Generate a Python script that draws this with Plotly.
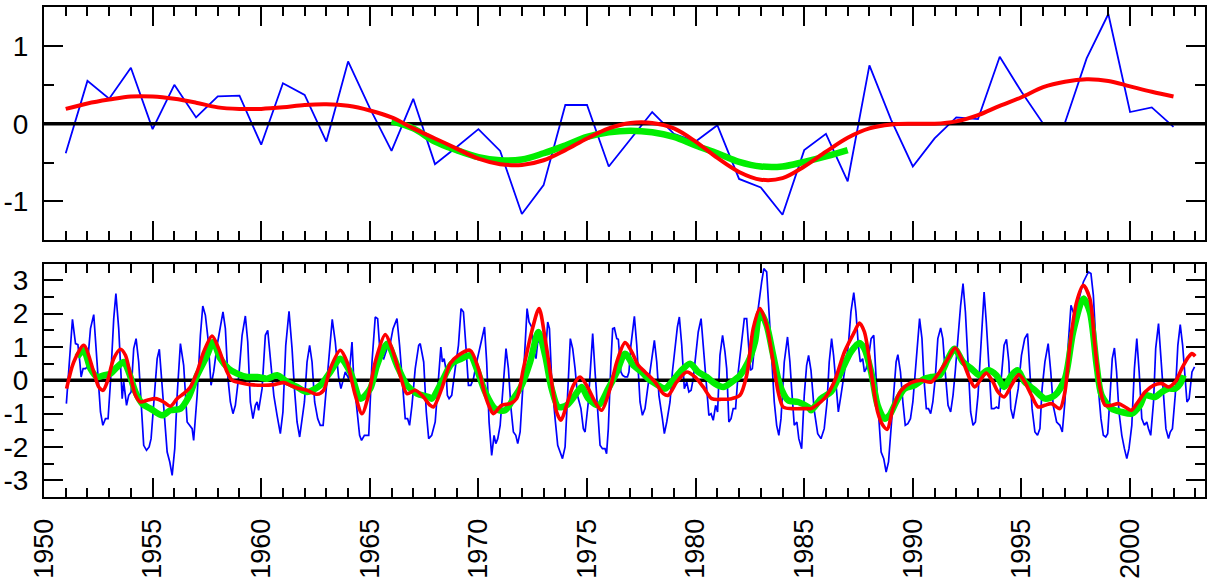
import plotly.graph_objects as go

# ---------------- data ----------------
# top panel: annual values
YEARS = list(range(1951, 2003))
ANNUAL = [-0.38, 0.55, 0.32, 0.72, -0.07, 0.50, 0.08, 0.35, 0.36, -0.27,
          0.52, 0.37, -0.23, 0.80, 0.20, -0.35, 0.32, -0.52, -0.30, -0.07,
          -0.35, -1.16, -0.79, 0.24, 0.24, -0.55, -0.20, 0.15, -0.13, -0.23,
          -0.02, -0.71, -0.82, -1.17, -0.34, -0.13, -0.74, 0.75, 0.05, -0.55,
          -0.19, 0.08, 0.06, 0.86, 0.41, 0.00, 0.01, 0.84, 1.41, 0.15,
          0.21, -0.04]
ANNUAL_SMOOTH = [0.19, 0.26, 0.31, 0.35, 0.35, 0.32, 0.27, 0.21, 0.19, 0.19,
                 0.21, 0.24, 0.25, 0.23, 0.17, 0.08, -0.06, -0.19, -0.32, -0.45,
                 -0.52, -0.53, -0.47, -0.34, -0.19, -0.06, 0.01, 0.01, -0.06, -0.23,
                 -0.44, -0.62, -0.72, -0.70, -0.55, -0.36, -0.18, -0.06, -0.01, 0.00,
                 0.00, 0.03, 0.11, 0.23, 0.34, 0.47, 0.54, 0.57, 0.55, 0.48,
                 0.41, 0.35]
YEARS_GREEN = list(range(1966, 1988))
ANNUAL_GREEN = [0.03, -0.06, -0.23, -0.34, -0.43, -0.47, -0.46, -0.38, -0.28, -0.17,
                -0.11, -0.09, -0.11, -0.17, -0.28, -0.38, -0.49, -0.55, -0.55, -0.49,
                -0.42, -0.34]

# bottom panel: monthly index (time in decimal years, value)
MONTHLY_T = [
    1951.03, 1951.31, 1951.45, 1951.56, 1951.65, 1951.71, 1951.80, 1951.91, 1951.99, 1952.14,
    1952.29, 1952.45, 1952.60, 1952.71, 1952.83, 1952.95, 1953.06, 1953.21, 1953.31, 1953.44,
    1953.52, 1953.60, 1953.67, 1953.80, 1953.90, 1954.01, 1954.13, 1954.24, 1954.36, 1954.49,
    1954.59, 1954.72, 1954.84, 1954.93, 1955.05, 1955.21, 1955.31, 1955.44, 1955.54, 1955.67,
    1955.79, 1955.90, 1956.02, 1956.13, 1956.28, 1956.43, 1956.59, 1956.69, 1956.82, 1956.89,
    1957.05, 1957.20, 1957.31, 1957.43, 1957.55, 1957.69, 1957.81, 1957.97, 1958.12, 1958.24,
    1958.35, 1958.47, 1958.58, 1958.70, 1958.81, 1958.97, 1959.12, 1959.27, 1959.38, 1959.50,
    1959.62, 1959.73, 1959.81, 1959.88, 1960.04, 1960.19, 1960.30, 1960.42, 1960.58, 1960.73,
    1960.88, 1961.00, 1961.13, 1961.28, 1961.42, 1961.53, 1961.65, 1961.77, 1961.88, 1961.99,
    1962.11, 1962.23, 1962.34, 1962.46, 1962.60, 1962.72, 1962.85, 1962.95, 1963.11, 1963.27,
    1963.41, 1963.56, 1963.67, 1963.76, 1963.87, 1964.03, 1964.18, 1964.26, 1964.41, 1964.53,
    1964.62, 1964.75, 1964.95, 1965.10, 1965.25, 1965.36, 1965.48, 1965.64, 1965.79, 1965.91,
    1966.07, 1966.25, 1966.37, 1966.53, 1966.63, 1966.74, 1966.83, 1966.94, 1967.09, 1967.25,
    1967.32, 1967.48, 1967.60, 1967.71,
    1967.85, 1968.01, 1968.13, 1968.27, 1968.34, 1968.42, 1968.50, 1968.57, 1968.65, 1968.77,
    1968.93, 1969.08, 1969.20, 1969.31, 1969.42, 1969.54, 1969.65, 1969.77, 1969.92, 1970.15,
    1970.28, 1970.38, 1970.49, 1970.61, 1970.72, 1970.80, 1970.89, 1971.00, 1971.10, 1971.20,
    1971.27, 1971.38, 1971.50, 1971.61, 1971.72, 1971.81, 1971.92, 1972.04, 1972.15, 1972.24,
    1972.33, 1972.45, 1972.53, 1972.65, 1972.73, 1972.84, 1972.94, 1973.07, 1973.19, 1973.27,
    1973.37, 1973.53, 1973.65, 1973.76, 1973.87, 1973.99, 1974.11, 1974.23, 1974.34, 1974.45,
    1974.56, 1974.63, 1974.72, 1974.83, 1974.91, 1975.06, 1975.17, 1975.26, 1975.37, 1975.49,
    1975.60, 1975.71, 1975.83, 1975.90, 1975.98, 1976.10, 1976.18, 1976.26, 1976.37, 1976.44,
    1976.56, 1976.64, 1976.75, 1976.86, 1976.93, 1977.02, 1977.18, 1977.29, 1977.44, 1977.55,
    1977.67, 1977.79, 1977.98, 1978.10, 1978.21, 1978.31, 1978.47, 1978.56, 1978.67, 1978.82,
    1978.93, 1979.05, 1979.16, 1979.25, 1979.36, 1979.48, 1979.59, 1979.69, 1979.79, 1979.89,
    1980.00, 1980.12, 1980.25, 1980.35, 1980.48, 1980.61, 1980.71, 1980.81, 1980.92, 1981.01,
    1981.12, 1981.24, 1981.35, 1981.43, 1981.53, 1981.63, 1981.73, 1981.84, 1981.96, 1982.12,
    1982.24, 1982.35, 1982.42, 1982.52, 1982.61, 1982.73, 1982.88, 1983.04, 1983.14, 1983.27,
    1983.37, 1983.50, 1983.62, 1983.73, 1983.83, 1983.93, 1984.08, 1984.23, 1984.34, 1984.42,
    1984.54, 1984.66, 1984.75, 1984.88, 1985.00, 1985.11, 1985.20,
    1985.31, 1985.46, 1985.62, 1985.77, 1985.92, 1986.05, 1986.15, 1986.26, 1986.35, 1986.46,
    1986.57, 1986.69, 1986.82, 1986.92, 1987.03, 1987.15, 1987.28, 1987.38, 1987.49, 1987.58,
    1987.69, 1987.77, 1987.85, 1987.95, 1988.08, 1988.20, 1988.31, 1988.43, 1988.54, 1988.66,
    1988.77, 1988.88, 1989.00, 1989.12, 1989.23, 1989.31, 1989.43, 1989.54, 1989.65, 1989.77,
    1989.89, 1990.00, 1990.15, 1990.31, 1990.42, 1990.51, 1990.62, 1990.72, 1990.82, 1990.92,
    1991.03, 1991.15, 1991.28, 1991.38, 1991.49, 1991.62, 1991.74, 1991.85, 1991.95, 1992.08,
    1992.20, 1992.31, 1992.42, 1992.54, 1992.66, 1992.77, 1992.88, 1993.00, 1993.15, 1993.28,
    1993.38, 1993.49, 1993.62, 1993.74, 1993.85, 1993.95, 1994.08, 1994.20, 1994.31, 1994.42,
    1994.51, 1994.62, 1994.72, 1994.85, 1995.00, 1995.15, 1995.28, 1995.38, 1995.49, 1995.62,
    1995.74, 1995.85, 1995.95, 1996.08, 1996.23, 1996.35, 1996.46, 1996.62, 1996.77, 1996.88,
    1997.00, 1997.15, 1997.28, 1997.38, 1997.54, 1997.69, 1997.85, 1998.08, 1998.20, 1998.31,
    1998.42, 1998.54, 1998.66, 1998.77, 1998.88, 1998.97, 1999.08, 1999.18, 1999.28, 1999.38,
    1999.49, 1999.62, 1999.74, 1999.85, 1999.95, 2000.08, 2000.20, 2000.31, 2000.42, 2000.54,
    2000.66, 2000.77, 2000.85, 2000.95, 2001.08, 2001.18, 2001.31, 2001.43, 2001.54, 2001.65,
    2001.77, 2001.85, 2001.95, 2002.08, 2002.20, 2002.31, 2002.42, 2002.51, 2002.62, 2002.72,
    2002.85, 2002.97]
MONTHLY_V = [
    -0.70, 1.83, 1.10, 1.07, 0.55, 0.10, 0.35, 0.35, 0.40, 1.55,
    1.97, 0.55, -0.95, -1.35, -1.15, -1.15, -0.05, 1.85, 2.60, 1.55,
    0.55, -0.55, -0.05, -0.75, -0.45, -0.35, 0.95, 1.25, 0.55, -0.95,
    -1.95, -2.10, -2.00, -1.75, -0.65, 0.65, 0.93, -0.25, -1.25, -2.15,
    -2.45, -2.85, -2.05, -0.45, 1.10, 0.45, -1.25, -1.35, -1.45, -1.80,
    -0.45, 1.35, 2.23, 1.95, 1.25, -0.15, 0.25, 1.05, 1.55, 2.05,
    1.55, 0.05, -0.65, -1.00, -0.75, 0.15, 1.35, 1.93, 1.15, -0.65,
    -1.15, -0.75, -0.65, -0.90, -0.25, 1.35, 1.50, 0.55, -0.45, -1.05,
    -1.60, -0.95, 1.05, 2.07, 0.95, -0.25, -1.25, -1.70, -1.15, -0.65,
    0.55, 1.05, 0.55, -0.65, -1.15, -1.35, -1.35, -0.65, 0.55, 1.83,
    1.15, 0.10, -0.25, -0.05, 0.25, 0.05, 1.15, 0.05, -0.95, -1.65,
    -1.80, -1.65, -1.65, 0.55, 1.90, 1.85, 0.75, 0.65, 0.95, 1.00,
    1.55, 1.85, 1.05, -0.25, -1.15, -1.15, -1.35, -0.75, 0.35, 1.05,
    1.10, 0.55, -0.95, -1.75,
    -1.65, -1.25, -0.25, 1.00, 0.55, 0.65, 0.35, -0.45, -0.55, -0.45,
    0.35, 1.05, 2.15, 2.05, 1.05, -0.15, -0.15, 0.05, 0.55, 1.25,
    1.60, 0.55, -1.25, -2.25, -1.65, -1.90, -1.75, -1.35, -0.45, 0.45,
    0.95, 0.35, -0.85, -1.55, -1.65, -1.90, -1.55, -0.25, 1.05, 2.15,
    1.75, 1.60, 0.95, 0.65, 1.15, 1.15, 1.15, 0.65, 1.75, 1.55,
    0.05, -1.15, -1.95, -2.15, -2.35, -2.00, -0.45, 1.25, 0.95, 0.35,
    -0.45, -0.65, -0.85, -1.45, -1.55, -0.65, 0.55, 1.40, 0.25, -0.75,
    -1.95, -2.05, -2.05, -2.20, -1.45, 0.55, 1.55, 1.57, 1.25, 1.23,
    0.25, 0.15, 0.10, 0.10, 0.25, 1.05, 1.92, 1.05, -0.65, -1.05,
    -0.85, -0.25, 0.55, 1.20, 0.55, -0.45, -1.15, -1.60, -1.25, -0.65,
    0.25, 1.05, 1.60, 1.90, 1.05, -0.25, -0.05, -0.35, -0.30, 0.05,
    0.75, 1.45, 1.85, 1.05, -0.25, -1.05, -1.00, -1.20, -0.75, -0.95,
    0.75, 1.35, 0.85, 0.35, -1.25, -1.15, -0.85, -0.85, 0.25, 1.15,
    1.85, 1.85, 1.05, 0.30, 0.35, 1.15, 2.15, 2.95, 3.35, 3.25,
    2.05, 0.55, -0.65, -1.35, -1.65, -1.15, 0.55, 1.30, 0.55, -0.25,
    -1.35, -1.25, -1.75, -2.05, -0.45, 0.45, 0.75,
    0.30, -0.90, -1.60, -1.75, -1.45, -0.65, 0.55, 1.25, 0.75, -0.25,
    -0.95, -0.45, 0.05, 0.55, 1.05, 2.05, 2.63, 2.05, 1.05, 0.55,
    0.65, 0.25, 0.35, 0.65, 1.25, 1.35, 0.05, -1.25, -2.15, -2.35,
    -2.75, -2.45, -1.45, -0.45, 0.55, 0.77, 0.25, -0.65, -1.35, -1.30,
    -1.15, -0.65, 0.55, 1.85, 1.25, 0.05, -0.85, -0.85, -1.00, -0.65,
    0.05, 1.25, 1.57, 1.25, 0.25, -0.75, -0.95, -0.45, 0.25, 1.35,
    2.25, 2.90, 2.05, 0.55, -0.95, -1.35, -1.25, -0.45, 1.05, 2.65,
    1.75, 0.55, -0.85, -0.85, -0.80, -0.85, 0.05, 1.05, 1.23, 0.55,
    -0.85, -1.15, -0.75, -0.25, 0.75, 1.25, 1.40, 0.35, -0.85, -1.55,
    -1.65, -1.45, -0.25, 0.55, 1.10, 0.25, -0.75, -1.25, -1.35, -1.55,
    -0.65, 1.05, 2.25, 2.05, 2.05, 2.55, 2.95, 3.25, 3.20, 2.55,
    1.25, -0.25, -1.15, -1.65, -1.70, -1.60, -0.45, 0.65, 0.97, 0.25,
    -0.95, -1.65, -2.05, -2.35, -2.05, -1.35, 0.35, 1.25, 0.25, -1.15,
    -1.35, -1.25, -1.45, -1.65, -0.65, 0.95, 1.70, 0.55, -0.65, -1.45,
    -1.75, -1.55, -1.45, -0.45, 1.05, 1.67, 1.05, 0.25, -0.65, -0.55,
    0.25, 0.40]

RED_T = [1951.04, 1951.37, 1951.83, 1952.29, 1952.52, 1952.72, 1952.91, 1953.21, 1953.52, 1953.75,
         1953.98, 1954.21, 1954.44, 1954.75, 1955.13, 1955.51, 1955.82, 1956.13, 1956.43, 1956.74,
         1957.05, 1957.35, 1957.74, 1958.04, 1958.43, 1958.66, 1959.04, 1959.50, 1960.11, 1960.57,
         1961.04, 1961.34, 1961.65, 1962.11, 1962.57, 1962.87, 1963.18, 1963.64, 1963.95, 1964.33,
         1964.64, 1964.94, 1965.25, 1965.71, 1966.02, 1966.40, 1966.71, 1967.09, 1967.40, 1967.78,
         1967.93, 1968.31, 1968.70, 1969.08, 1969.62, 1970.00, 1970.31, 1970.54, 1970.69, 1971.07,
         1971.46, 1971.76, 1972.07, 1972.45, 1972.79, 1973.07, 1973.37, 1973.60, 1973.80, 1974.06,
         1974.37, 1974.68, 1974.98, 1975.37, 1975.67, 1976.06, 1976.37, 1976.75, 1977.06, 1977.36,
         1977.67, 1978.13, 1978.51, 1978.74, 1979.13, 1979.59, 1979.97, 1980.35, 1980.74, 1981.20,
         1981.66, 1982.04, 1982.35, 1982.65, 1982.96, 1983.27, 1983.57, 1983.80, 1984.03, 1984.42,
         1984.80, 1985.18, 1985.31, 1985.92, 1986.38, 1986.85, 1987.31, 1987.54, 1987.77, 1988.08,
         1988.38, 1988.62, 1988.82, 1989.08, 1989.46, 1989.92, 1990.38, 1990.85, 1991.23, 1991.62,
         1991.95, 1992.31, 1992.62, 1992.85, 1993.15, 1993.38, 1993.69, 1993.92, 1994.20, 1994.54,
         1994.88, 1995.15, 1995.46, 1995.77, 1996.08, 1996.38, 1996.77, 1997.00, 1997.23, 1997.54,
         1997.85, 1998.15, 1998.38, 1998.62, 1998.85, 1999.15, 1999.46, 1999.77, 2000.05, 2000.31,
         2000.69, 2001.08, 2001.46, 2001.77, 2002.08, 2002.38, 2002.69, 2002.85, 2003.00]
RED_V = [-0.25, 0.55, 1.05, 0.25, -0.20, -0.30, -0.05, 0.65, 0.93, 0.75,
         0.15, -0.45, -0.65, -0.60, -0.55, -0.65, -0.78, -0.55, -0.40, -0.20,
         0.25, 0.85, 1.33, 0.95, 0.25, 0.00, -0.07, -0.13, -0.15, -0.13,
         -0.07, -0.15, -0.23, -0.30, -0.42, -0.30, 0.35, 0.90, 0.55, -0.45,
         -1.00, -0.45, 0.55, 1.37, 0.95, 0.15, -0.40, -0.30, -0.45, -0.75,
         -0.80, -0.25, 0.50, 0.75, 0.90, 0.35, -0.45, -0.85, -1.00, -0.75,
         -0.70, -0.55, 0.35, 1.45, 2.15, 1.25, -0.05, -0.95, -1.20, -0.75,
         -0.15, 0.10, -0.15, -0.65, -0.90, -0.25, 0.55, 1.13, 0.85, 0.45,
         0.25, -0.05, -0.40, -0.45, -0.05, 0.25, 0.10, -0.20, -0.55, -0.57,
         -0.55, -0.45, 0.15, 1.55, 2.15, 1.65, 0.55, -0.35, -0.80, -0.85,
         -0.85, -0.85, -0.85, -0.55, -0.05, 0.85, 1.45, 1.72, 1.45, 0.25,
         -0.95, -1.35, -1.47, -0.85, -0.30, -0.07, 0.00, -0.05, 0.25, 0.65,
         0.97, 0.55, 0.05, -0.20, 0.05, 0.22, -0.05, -0.35, -0.50, -0.15,
         0.17, -0.05, -0.45, -0.80, -0.75, -0.70, -0.85, -0.35, 1.05, 2.35,
         2.85, 2.45, 1.05, -0.25, -0.75, -0.75, -0.70, -0.80, -0.90, -0.70,
         -0.35, -0.15, -0.10, -0.20, -0.05, 0.35, 0.70, 0.80, 0.72]

GREEN_T = [1951.53, 1951.83, 1952.14, 1952.45, 1952.75, 1953.06, 1953.37, 1953.67, 1953.90, 1954.21,
           1954.52, 1954.90, 1955.44, 1955.82, 1956.28, 1956.66, 1957.05, 1957.51, 1957.79, 1958.12,
           1958.50, 1958.89, 1959.35, 1959.82, 1960.27, 1960.73, 1961.19, 1961.65, 1962.11, 1962.72,
           1963.18, 1963.64, 1964.10, 1964.57, 1965.02, 1965.33, 1965.80, 1966.25, 1966.71, 1967.17,
           1967.71, 1967.85, 1968.31, 1968.77, 1969.23, 1969.62, 1969.92, 1970.31, 1970.77, 1971.23,
           1971.61, 1971.99, 1972.38, 1972.76, 1973.07, 1973.37, 1973.68, 1974.06, 1974.45, 1974.75,
           1975.06, 1975.52, 1975.98, 1976.37, 1976.75, 1977.13, 1977.52, 1977.90, 1978.28, 1978.59,
           1978.90, 1979.28, 1979.74, 1980.12, 1980.51, 1980.89, 1981.27, 1981.66, 1982.04, 1982.42,
           1982.73, 1982.96, 1983.27, 1983.57, 1983.88, 1984.26, 1984.72, 1985.18, 1985.31, 1985.77,
           1986.23, 1986.69, 1987.15, 1987.54, 1987.77, 1988.08, 1988.38, 1988.69, 1988.92, 1989.23,
           1989.62, 1990.08, 1990.54, 1990.85, 1991.23, 1991.62, 1991.92, 1992.31, 1992.69, 1993.08,
           1993.46, 1993.85, 1994.20, 1994.54, 1994.82, 1995.15, 1995.62, 1996.08, 1996.54, 1997.00,
           1997.38, 1997.85, 1998.15, 1998.46, 1998.69, 1999.15, 1999.62, 2000.08, 2000.46, 2000.69,
           2001.15, 2001.46, 2001.77, 2002.08, 2002.31, 2002.46]
GREEN_V = [0.70, 0.90, 0.35, 0.10, 0.15, 0.20, 0.40, 0.55, 0.25, -0.35,
           -0.70, -0.85, -1.05, -0.90, -0.85, -0.50, 0.15, 0.75, 1.15, 0.65,
           0.35, 0.20, 0.10, 0.10, 0.05, 0.15, -0.05, -0.20, -0.35, -0.15,
           0.25, 0.65, 0.25, -0.55, -0.25, 0.45, 1.10, 0.45, -0.15, -0.40,
           -0.50, -0.55, -0.05, 0.50, 0.65, 0.75, 0.35, -0.35, -0.85, -0.90,
           -0.55, -0.15, 0.55, 1.45, 0.75, -0.25, -0.80, -0.75, -0.45, -0.20,
           -0.55, -0.75, -0.25, 0.25, 0.80, 0.45, 0.25, 0.00, -0.15, -0.25,
           -0.05, 0.25, 0.50, 0.25, 0.10, -0.10, -0.20, -0.05, 0.15, 0.55,
           1.15, 2.05, 1.65, 0.75, -0.15, -0.60, -0.65, -0.80, -0.90, -0.55,
           -0.35, 0.25, 0.85, 1.12, 0.95, 0.25, -0.75, -1.15, -1.05, -0.65,
           -0.25, -0.15, 0.05, 0.10, 0.15, 0.65, 0.95, 0.55, 0.35, 0.15,
           0.30, 0.15, -0.20, 0.15, 0.30, -0.05, -0.30, -0.55, -0.45, 0.05,
           1.45, 2.45, 2.05, 0.45, -0.45, -0.85, -0.95, -1.00, -0.75, -0.45,
           -0.50, -0.35, -0.25, -0.25, -0.10, 0.15]

X_RANGE = [1950, 2003.45]
TOP_RANGE = [-1.5, 1.5]
BOT_RANGE = [-3.5, 3.5]
TOP_TICKS = [-1, 0, 1]
BOT_TICKS = [-3, -2, -1, 0, 1, 2, 3]
X_TICKS = list(range(1950, 2001, 5))

# ---------------- figure ----------------
BLUE = "#0000ff"
RED = "#ff0000"
GREEN = "#00ee00"
FONT = "Liberation Sans, Arial, Helvetica, sans-serif"
FSIZE = 28
XFSIZE = 27

fig = go.Figure()

# top panel
fig.add_trace(go.Scatter(x=YEARS, y=ANNUAL, mode="lines",
                         line=dict(color=BLUE, width=1.8), xaxis="x", yaxis="y"))
fig.add_trace(go.Scatter(x=X_RANGE, y=[0, 0], mode="lines",
                         line=dict(color="black", width=3.5), xaxis="x", yaxis="y"))
fig.add_trace(go.Scatter(x=YEARS_GREEN, y=ANNUAL_GREEN, mode="lines",
                         line=dict(color=GREEN, width=6.5, shape="spline"), xaxis="x", yaxis="y"))
fig.add_trace(go.Scatter(x=YEARS, y=ANNUAL_SMOOTH, mode="lines",
                         line=dict(color=RED, width=4, shape="spline"), xaxis="x", yaxis="y"))

# bottom panel
fig.add_trace(go.Scatter(x=MONTHLY_T, y=MONTHLY_V, mode="lines",
                         line=dict(color=BLUE, width=1.7), xaxis="x2", yaxis="y2"))
fig.add_trace(go.Scatter(x=X_RANGE, y=[0, 0], mode="lines",
                         line=dict(color="black", width=3.5), xaxis="x2", yaxis="y2"))
fig.add_trace(go.Scatter(x=GREEN_T, y=GREEN_V, mode="lines",
                         line=dict(color=GREEN, width=6.5, shape="spline", smoothing=0.8),
                         xaxis="x2", yaxis="y2"))
fig.add_trace(go.Scatter(x=RED_T, y=RED_V, mode="lines",
                         line=dict(color=RED, width=3.6, shape="spline", smoothing=0.8),
                         xaxis="x2", yaxis="y2"))

common_x = dict(range=X_RANGE, tickvals=X_TICKS, ticks="inside", ticklen=19, tickwidth=2,
                tickcolor="black", showline=True, linewidth=2, linecolor="black",
                mirror="allticks", showgrid=False, zeroline=False, automargin=False,
                minor=dict(ticks="inside", ticklen=9, tickwidth=2, dtick=1, tick0=1950,
                           tickcolor="black", showgrid=False))
common_y = dict(ticks="inside", ticklen=19, tickwidth=2, tickcolor="black",
                showline=True, linewidth=2, linecolor="black", mirror="allticks",
                showgrid=False, zeroline=False, ticklabelstandoff=8, automargin=False,
                tickfont=dict(family=FONT, size=FSIZE, color="black"),
                minor=dict(ticks="inside", ticklen=10, tickwidth=2, dtick=0.5, tick0=0,
                           tickcolor="black", showgrid=False))

fig.update_layout(
    width=1216, height=581,
    margin=dict(l=44, r=11, t=7, b=84, autoexpand=False),
    paper_bgcolor="white", plot_bgcolor="white",
    showlegend=False,
    font=dict(family=FONT, size=FSIZE, color="black"),
    xaxis=dict(**common_x, anchor="y", showticklabels=False, domain=[0, 1]),
    xaxis2=dict(**common_x, anchor="y2", matches="x", showticklabels=True,
                tickangle=-90, ticklabelstandoff=9,
                tickfont=dict(family=FONT, size=XFSIZE, color="black"), domain=[0, 1]),
    yaxis=dict(**common_y, domain=[0.5237, 1], range=TOP_RANGE,
               tickvals=TOP_TICKS, ticktext=[str(v) for v in TOP_TICKS]),
    yaxis2=dict(**common_y, domain=[0, 0.4763], range=BOT_RANGE,
                tickvals=BOT_TICKS, ticktext=[str(v) for v in BOT_TICKS]),
)

fig.write_html("out.html",
               config={"displayModeBar": False},
               post_script="document.body.style.margin='0px';"
                           "document.body.style.overflow='hidden';")
